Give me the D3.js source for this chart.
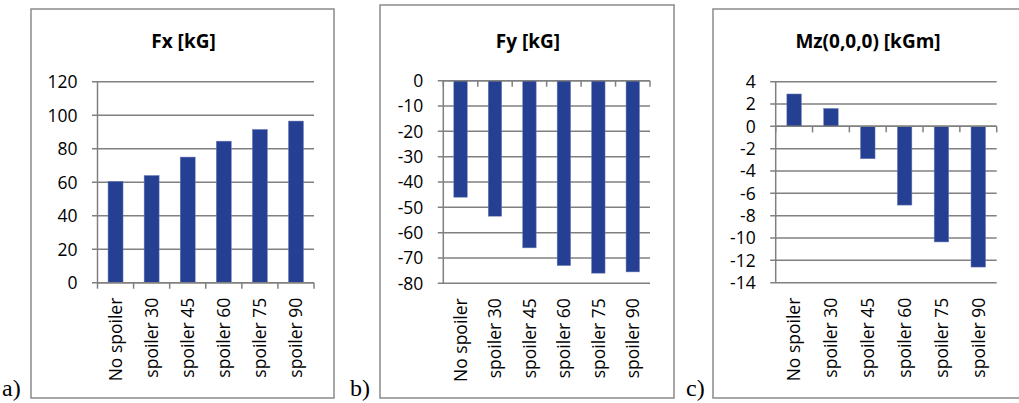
<!DOCTYPE html>
<html><head><meta charset="utf-8">
<script src="https://cdn.jsdelivr.net/npm/d3@7"></script>
<style>
body{margin:0;background:#fff;}
svg{display:block;}
.lbl{font-family:"Open Sans",sans-serif;font-size:17.5px;fill:#000;}
.ttl{font-family:"Open Sans",sans-serif;font-size:19px;font-weight:bold;fill:#000;}
.pl{font-family:"Liberation Serif","Times New Roman",serif;font-size:24px;fill:#000;}
</style></head>
<body>
<script>
const categories = ["No spoiler","spoiler 30","spoiler 45","spoiler 60","spoiler 75","spoiler 90"];
const fxValues = [60.5, 64, 75, 84.5, 91.5, 96.5];
const fyValues = [-46, -53.5, -66, -73, -76, -75.5];
const mzValues = [2.9, 1.6, -2.9, -7.05, -10.35, -12.6];
const fxTicks = [0, 20, 40, 60, 80, 100, 120];
const fyTicks = [0, -10, -20, -30, -40, -50, -60, -70, -80];
const mzTicks = [4, 2, 0, -2, -4, -6, -8, -10, -12, -14];
const titles = ["Fx [kG]", "Fy [kG]", "Mz(0,0,0) [kGm]"];
const panelLabels = ["a)", "b)", "c)"];

const W = 1019, H = 403;
const svg = d3.select("body").append("svg").attr("width", W).attr("height", H);

const barColor = "#253f93";
const gridColor = "#808080";

const panels = [
  {values: fxValues, ticks: fxTicks, domain: [0, 120], title: titles[0], label: panelLabels[0],
   frame: [31, 9, 334, 398], x0: 97.5, x1: 314, yTop: 81.7, yBot: 282.7, pi: 0.585, labelX: 2, labelY: 396},
  {values: fyValues, ticks: fyTicks, domain: [-80, 0], title: titles[1], label: panelLabels[1],
   frame: [380, 5, 674, 398], x0: 443.3, x1: 650, yTop: 80.7, yBot: 283.3, pi: 0.61, labelX: 350, labelY: 396},
  {values: mzValues, ticks: mzTicks, domain: [-14, 4], title: titles[2], label: panelLabels[2],
   frame: [713, 9, 1021, 398], x0: 775.7, x1: 996.7, yTop: 81.7, yBot: 282.7, pi: 0.606, labelX: 686, labelY: 396}
];

panels.forEach(p => {
  const g = svg.append("g");
  const [fx0, fy0, fx1, fy1] = p.frame;
  g.append("rect").attr("x", fx0).attr("y", fy0).attr("width", fx1 - fx0).attr("height", fy1 - fy0)
    .attr("fill", "none").attr("stroke", "#8a8a8a").attr("stroke-width", 1.5);
  g.append("text").attr("class", "pl").attr("x", p.labelX).attr("y", p.labelY).text(p.label);
  g.append("text").attr("class", "ttl").attr("x", (fx0 + fx1) / 2 + 1).attr("y", 47.5)
    .attr("text-anchor", "middle").text(p.title);

  const x = d3.scaleBand().domain(categories).range([p.x0, p.x1])
    .paddingInner(p.pi).paddingOuter(p.pi / 2);
  const y = d3.scaleLinear().domain(p.domain).range([p.yBot, p.yTop]);

  // gridlines with left tick marks
  g.append("g").selectAll("line").data(p.ticks).join("line")
    .attr("x1", p.x0 - 5.5).attr("x2", p.x1)
    .attr("y1", d => y(d)).attr("y2", d => y(d))
    .attr("stroke", gridColor).attr("stroke-width", 1.5);

  // y tick labels
  g.append("g").selectAll("text").data(p.ticks).join("text")
    .attr("class", "lbl").attr("x", p.x0 - 20).attr("y", d => y(d)).attr("dy", "0.36em")
    .attr("text-anchor", "end").text(d => d);

  // bars
  g.append("g").selectAll("rect").data(p.values).join("rect")
    .attr("x", (d, i) => x(categories[i]))
    .attr("width", x.bandwidth())
    .attr("y", d => Math.min(y(d), y(0)))
    .attr("height", d => Math.abs(y(d) - y(0)))
    .attr("fill", barColor).attr("stroke", "#6f7fb8").attr("stroke-width", 0.5);

  // y axis line
  g.append("line").attr("x1", p.x0).attr("x2", p.x0).attr("y1", p.yTop).attr("y2", p.yBot)
    .attr("stroke", gridColor).attr("stroke-width", 1.5);
  // category axis at zero
  const z = y(0);
  g.append("line").attr("x1", p.x0).attr("x2", p.x1).attr("y1", z).attr("y2", z)
    .attr("stroke", gridColor).attr("stroke-width", 1.5);
  const bounds = categories.map(c => x(c) - x.step() * x.paddingInner() / 2);
  bounds[0] = p.x0; bounds.push(p.x1);
  g.append("g").selectAll("line").data(bounds).join("line")
    .attr("x1", d => d).attr("x2", d => d).attr("y1", z).attr("y2", z + 6)
    .attr("stroke", gridColor).attr("stroke-width", 1.5);

  // rotated category labels
  g.append("g").selectAll("text").data(categories).join("text")
    .attr("class", "lbl")
    .attr("transform", c => `translate(${x(c) + x.bandwidth() / 2},${p.yBot + 15}) rotate(-90)`)
    .attr("dy", "0.36em").attr("text-anchor", "end").text(c => c);
});
</script>
</body></html>
